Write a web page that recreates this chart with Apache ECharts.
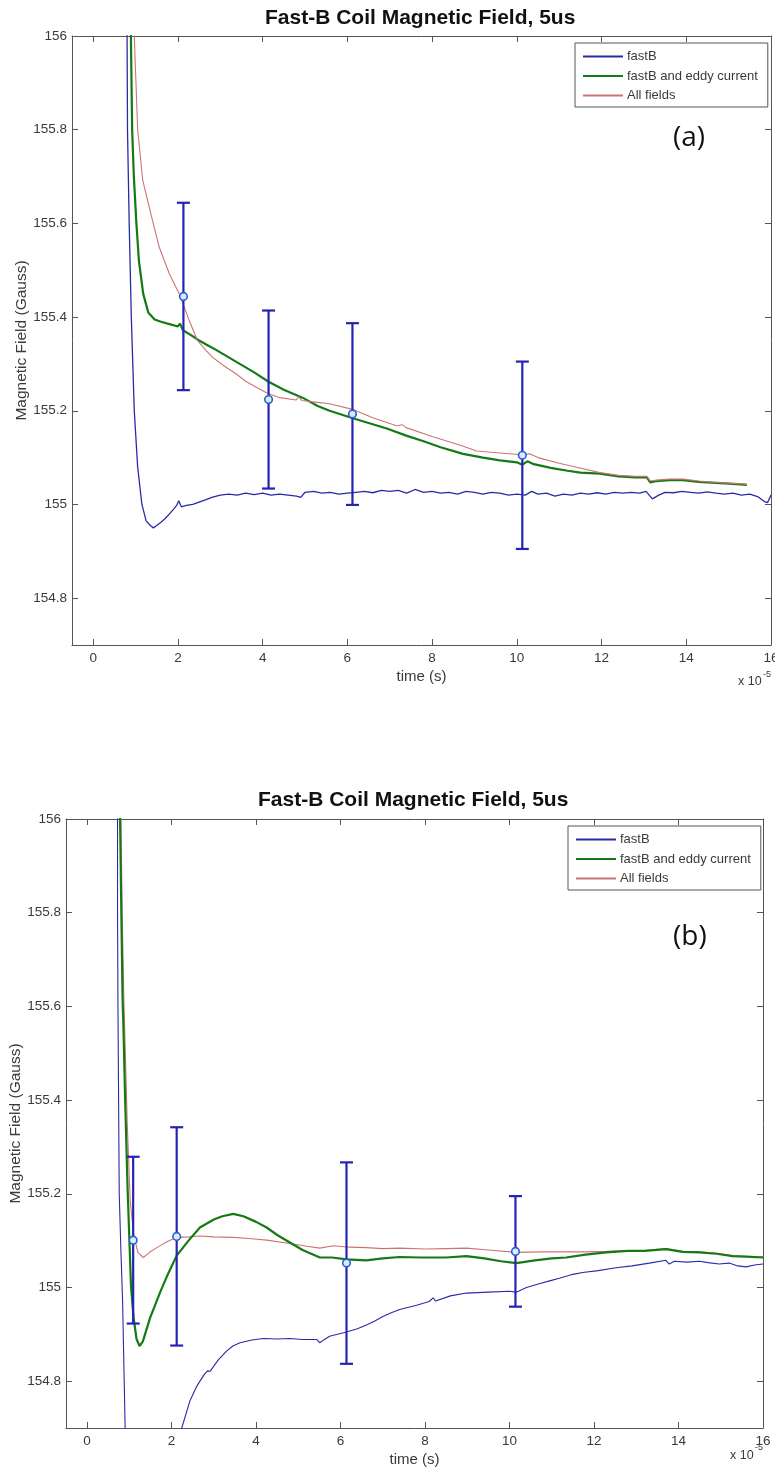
<!DOCTYPE html>
<html><head><meta charset="utf-8">
<script src="https://cdn.jsdelivr.net/npm/echarts@6/dist/echarts.min.js"></script>
<style>html,body{margin:0;padding:0;background:#fff}#c{width:775px;height:1470px}</style>
</head><body><div id="c"></div>
<script>
// ---------- data (time in units of 1e-5 s, field in Gauss) ----------
const titleText = 'Fast-B Coil Magnetic Field, 5us';
const seriesNames = ['fastB', 'fastB and eddy current', 'All fields'];

// panel (a)
const aFastB = [[0.79,156.3],[0.80,156.0],[0.81,155.8],[0.85,155.6],[0.90,155.4],[0.97,155.2],[1.05,155.08],[1.15,155.0],[1.25,154.965],[1.35,154.955],[1.42,154.95],[1.5,154.955],[1.6,154.962],[1.7,154.97],[1.8,154.98],[1.9,154.99],[1.97,154.998],[2.02,155.008],[2.08,154.995],[2.2,154.998],[2.35,155.0],[2.5,155.005],[2.65,155.01],[2.8,155.015],[3.0,155.02],[3.2,155.022],[3.4,155.02],[3.6,155.024],[3.8,155.021],[4.0,155.024],[4.2,155.02],[4.4,155.022],[4.6,155.02],[4.8,155.018],[4.9,155.015],[5.0,155.026],[5.2,155.028],[5.4,155.024],[5.6,155.026],[5.8,155.022],[6.0,155.024],[6.2,155.026],[6.4,155.028],[6.6,155.025],[6.8,155.03],[7.0,155.028],[7.2,155.03],[7.4,155.024],[7.6,155.032],[7.8,155.026],[8.0,155.028],[8.2,155.024],[8.4,155.026],[8.6,155.022],[8.8,155.028],[9.0,155.026],[9.2,155.022],[9.4,155.026],[9.6,155.024],[9.8,155.02],[10.0,155.022],[10.2,155.02],[10.35,155.028],[10.5,155.022],[10.7,155.024],[10.9,155.018],[11.1,155.022],[11.3,155.02],[11.5,155.024],[11.7,155.022],[11.9,155.025],[12.1,155.022],[12.3,155.026],[12.5,155.024],[12.7,155.026],[12.9,155.024],[13.05,155.028],[13.2,155.012],[13.35,155.02],[13.5,155.026],[13.7,155.025],[13.9,155.028],[14.1,155.026],[14.3,155.024],[14.5,155.027],[14.7,155.024],[14.9,155.022],[15.1,155.024],[15.3,155.02],[15.5,155.022],[15.7,155.016],[15.85,155.006],[15.92,155.004],[16.0,155.02]];
const aEddy = [[0.87,156.3],[0.89,156.0],[0.92,155.8],[0.96,155.7],[1.02,155.6],[1.08,155.52],[1.18,155.45],[1.3,155.41],[1.45,155.395],[1.6,155.39],[1.8,155.385],[2.0,155.38],[2.05,155.386],[2.12,155.372],[2.3,155.362],[2.5,155.35],[2.7,155.34],[2.9,155.33],[3.2,155.314],[3.5,155.298],[3.8,155.282],[4.14,155.262],[4.5,155.245],[4.94,155.228],[5.3,155.21],[5.58,155.2],[6.13,155.184],[6.5,155.174],[6.93,155.162],[7.39,155.147],[7.8,155.135],[8.2,155.122],[8.73,155.108],[9.2,155.1],[9.6,155.094],[10.0,155.09],[10.13,155.085],[10.25,155.092],[10.4,155.086],[10.8,155.078],[11.2,155.072],[11.5,155.068],[11.96,155.066],[12.4,155.06],[12.8,155.058],[13.07,155.058],[13.15,155.047],[13.3,155.05],[13.6,155.052],[13.92,155.052],[14.3,155.048],[14.7,155.046],[15.1,155.044],[15.43,155.042]];
const aAll = [[0.95,156.3],[0.97,156.0],[1.05,155.8],[1.17,155.692],[1.36,155.621],[1.56,155.549],[1.8,155.492],[2.03,155.45],[2.27,155.392],[2.46,155.35],[2.65,155.33],[2.82,155.314],[3.1,155.295],[3.37,155.279],[3.6,155.263],[3.85,155.25],[4.1,155.238],[4.4,155.228],[4.79,155.223],[4.85,155.23],[4.92,155.222],[5.2,155.219],[5.58,155.215],[6.12,155.203],[6.6,155.185],[7.16,155.168],[7.3,155.17],[7.39,155.164],[8.0,155.145],[8.72,155.125],[9.05,155.114],[9.6,155.11],[10.13,155.106],[10.3,155.108],[10.5,155.1],[11.0,155.088],[11.49,155.078],[11.96,155.068],[12.4,155.062],[12.8,155.06],[13.07,155.06],[13.15,155.05],[13.3,155.052],[13.6,155.054],[13.92,155.054],[14.3,155.05],[14.7,155.047],[15.1,155.045],[15.43,155.043]];
const aErrT = [2.13, 4.14, 6.12, 10.13];
const aErrV = [155.444, 155.224, 155.193, 155.105];
const aErrD = [0.2, 0.19, 0.194, 0.2];

// panel (b)
const bFastB = [[0.71,156.3],[0.72,156.0],[0.72,155.8],[0.73,155.6],[0.76,155.2],[0.8,155.078],[0.84,154.97],[0.9,154.7],[0.95,154.4],[1.5,154.3],[2.0,154.5],[2.24,154.7],[2.43,154.757],[2.6,154.79],[2.77,154.814],[2.85,154.822],[2.91,154.821],[3.1,154.845],[3.3,154.864],[3.45,154.875],[3.62,154.882],[3.9,154.888],[4.17,154.891],[4.5,154.89],[4.8,154.891],[5.1,154.889],[5.43,154.889],[5.51,154.882],[5.6,154.888],[5.74,154.896],[6.14,154.905],[6.4,154.912],[6.61,154.92],[6.8,154.928],[7.0,154.938],[7.2,154.946],[7.4,154.953],[7.8,154.962],[8.1,154.97],[8.19,154.978],[8.25,154.971],[8.6,154.982],[8.98,154.988],[9.5,154.99],[10.0,154.992],[10.16,154.99],[10.4,155.0],[10.7,155.008],[10.95,155.014],[11.2,155.02],[11.5,155.028],[11.73,155.032],[12.1,155.036],[12.52,155.042],[12.9,155.046],[13.31,155.052],[13.7,155.058],[13.78,155.05],[13.9,155.056],[14.2,155.054],[14.49,155.056],[14.7,155.053],[14.96,155.05],[15.2,155.052],[15.4,155.046],[15.6,155.044],[15.8,155.048],[16.0,155.05]];
const bEddy = [[0.77,156.3],[0.78,156.0],[0.81,155.8],[0.84,155.613],[0.86,155.556],[0.9,155.4],[0.96,155.206],[1.04,155.0],[1.1,154.935],[1.17,154.89],[1.24,154.875],[1.32,154.885],[1.49,154.935],[1.73,154.99],[1.92,155.03],[2.12,155.068],[2.4,155.1],[2.67,155.128],[3.0,155.145],[3.2,155.152],[3.46,155.157],[3.7,155.152],[4.0,155.14],[4.25,155.128],[4.5,155.112],[4.8,155.096],[5.1,155.08],[5.51,155.064],[5.8,155.064],[6.14,155.06],[6.61,155.058],[7.0,155.062],[7.4,155.065],[7.9,155.064],[8.5,155.064],[8.98,155.067],[9.4,155.062],[9.8,155.056],[10.16,155.052],[10.6,155.058],[11.0,155.062],[11.34,155.064],[11.8,155.07],[12.29,155.075],[12.8,155.078],[13.2,155.078],[13.7,155.082],[14.1,155.076],[14.49,155.075],[14.9,155.072],[15.28,155.067],[15.6,155.066],[16.0,155.064]];
const bAll = [[0.79,156.3],[0.8,156.0],[0.83,155.8],[0.87,155.613],[0.95,155.35],[1.02,155.185],[1.1,155.114],[1.2,155.075],[1.33,155.064],[1.48,155.075],[1.65,155.085],[1.9,155.098],[2.12,155.107],[2.4,155.108],[2.67,155.11],[3.0,155.108],[3.46,155.107],[3.9,155.104],[4.25,155.101],[4.8,155.094],[5.2,155.088],[5.51,155.084],[5.83,155.089],[6.2,155.086],[6.61,155.085],[7.0,155.083],[7.4,155.084],[8.0,155.082],[8.5,155.083],[8.98,155.084],[9.5,155.08],[10.16,155.075],[10.8,155.076],[11.34,155.076],[11.8,155.076],[12.29,155.077],[12.8,155.079],[13.2,155.079],[13.7,155.083],[14.1,155.077],[14.49,155.076],[14.9,155.073],[15.28,155.068],[15.6,155.066],[16.0,155.065]];
const bErrT = [1.09, 2.12, 6.14, 10.14];
const bErrV = [155.101, 155.109, 155.052, 155.077];
const bErrD = [0.178, 0.233, 0.215, 0.118];

// axis ranges
const xMin = -0.5, xMax = 16;
const yMin = 154.7, yMax = 156;

// ---------- styling ----------
const FONT = 'Liberation Sans';
const AXC = '#555';
const TXT = '#3a3a3a';
const C_BLUE = '#2a2aa6', C_GREEN = '#157a15', C_RED = '#cc7474', C_ERR = '#2424b4';

const grids = [
  {left: 72, top: 36, width: 699, height: 609, outerBoundsMode: 'none'},
  {left: 66, top: 819, width: 697, height: 609, outerBoundsMode: 'none'}
];

function isMult(v, step){ const r = v/step; return Math.abs(r - Math.round(r)) < 1e-6; }

const xAxes = [], yAxes = [];
grids.forEach((g, gi) => {
  xAxes.push({
    type: 'value', gridIndex: gi, position: 'bottom', min: xMin, max: xMax, splitNumber: 8,
    name: 'time (s)', nameLocation: 'middle', nameGap: 24, nameMoveOverlap: false,
    nameTextStyle: {fontFamily: FONT, fontSize: 15, color: TXT},
    axisLine: {show: true, onZero: false, lineStyle: {color: AXC, width: 1}},
    axisTick: {show: true, inside: true, length: 6, lineStyle: {color: AXC}},
    axisLabel: {show: true, margin: 6, fontFamily: FONT, fontSize: 13.5, color: TXT, showMinLabel: false,
      formatter: v => isMult(v, 2) ? String(Math.round(v)) : ''},
    splitLine: {show: false}
  });
  xAxes.push({
    type: 'value', gridIndex: gi, position: 'top', min: xMin, max: xMax, splitNumber: 8,
    axisLine: {show: true, onZero: false, lineStyle: {color: AXC, width: 1}},
    axisTick: {show: true, inside: true, length: 6, lineStyle: {color: AXC}},
    axisLabel: {show: false}, splitLine: {show: false}
  });
  yAxes.push({
    type: 'value', gridIndex: gi, position: 'left', min: yMin, max: yMax, splitNumber: 6,
    name: 'Magnetic Field (Gauss)', nameLocation: 'middle', nameGap: 42, nameMoveOverlap: false,
    nameTextStyle: {fontFamily: FONT, fontSize: 15.5, color: TXT},
    axisLine: {show: true, onZero: false, lineStyle: {color: AXC, width: 1}},
    axisTick: {show: true, inside: true, length: 6, lineStyle: {color: AXC}},
    axisLabel: {show: true, margin: 5, fontFamily: FONT, fontSize: 13.5, color: TXT, showMinLabel: false,
      formatter: v => isMult(v, 0.2) ? String(Math.round(v*10)/10) : ''},
    splitLine: {show: false}
  });
  yAxes.push({
    type: 'value', gridIndex: gi, position: 'right', min: yMin, max: yMax, splitNumber: 6,
    axisLine: {show: true, onZero: false, lineStyle: {color: AXC, width: 1}},
    axisTick: {show: true, inside: true, length: 6, lineStyle: {color: AXC}},
    axisLabel: {show: false}, splitLine: {show: false}
  });
});

function lineSeries(name, data, color, width, gi, z){
  return {
    type: 'line', name, data, xAxisIndex: gi*2, yAxisIndex: gi*2,
    showSymbol: false, symbol: 'none', clip: true, smooth: false, z,
    lineStyle: {color, width}, itemStyle: {color}, emphasis: {disabled: true}
  };
}

function errSeries(ts, vs, ds, gi){
  return {
    type: 'custom', name: 'err' + gi, xAxisIndex: gi*2, yAxisIndex: gi*2, z: 10,
    data: ts.map((t, i) => [t, vs[i], ds[i]]),
    encode: {x: 0, y: 1},
    renderItem: function(params, api){
      const x = api.value(0), y = api.value(1), d = api.value(2);
      const p = api.coord([x, y]), pt = api.coord([x, y + d]), pb = api.coord([x, y - d]);
      const hw = 6.5;
      const ls = {stroke: C_ERR, lineWidth: 2.2};
      return {type: 'group', children: [
        {type: 'line', shape: {x1: p[0], y1: pt[1], x2: p[0], y2: pb[1]}, style: ls},
        {type: 'line', shape: {x1: p[0]-hw, y1: pt[1], x2: p[0]+hw, y2: pt[1]}, style: ls},
        {type: 'line', shape: {x1: p[0]-hw, y1: pb[1], x2: p[0]+hw, y2: pb[1]}, style: ls},
        {type: 'circle', shape: {cx: p[0], cy: p[1], r: 3.8}, style: {fill: '#d8ecff', stroke: '#2a5fd0', lineWidth: 1.6}}
      ]};
    }
  };
}

const series = [
  lineSeries(seriesNames[0], aFastB, C_BLUE, 1.3, 0, 2),
  lineSeries(seriesNames[1], aEddy, C_GREEN, 2.2, 0, 3),
  lineSeries(seriesNames[2], aAll, C_RED, 1.1, 0, 4),
  errSeries(aErrT, aErrV, aErrD, 0),
  lineSeries(seriesNames[0], bFastB, C_BLUE, 1.1, 1, 2),
  lineSeries(seriesNames[2], bAll, C_RED, 1.1, 1, 3),
  lineSeries(seriesNames[1], bEddy, C_GREEN, 2.2, 1, 4),
  errSeries(bErrT, bErrV, bErrD, 1)
];

function legendAt(left, top){
  return {
    left, top, orient: 'vertical', data: seriesNames,
    backgroundColor: '#fff', borderColor: '#555', borderWidth: 1, borderRadius: 0,
    padding: [7, 10, 5, 7], itemWidth: 40, itemHeight: 12, itemGap: 6.5,
    selectedMode: false,
    itemStyle: {opacity: 0},
    textStyle: {fontFamily: FONT, fontSize: 13, color: TXT, padding: [0,0,0,-1]}
  };
}

const option = {
  animation: false,
  backgroundColor: '#fff',
  title: [
    {text: titleText, left: 265, top: 8, padding: 0, textStyle: {fontFamily: FONT, fontWeight: 'bold', fontSize: 21, color: '#111'}},
    {text: titleText, left: 258, top: 790, padding: 0, textStyle: {fontFamily: FONT, fontWeight: 'bold', fontSize: 21, color: '#111'}}
  ],
  legend: [legendAt(575, 43), legendAt(568, 826)],
  grid: grids,
  xAxis: xAxes,
  yAxis: yAxes,
  series,
  graphic: [
    {type: 'text', left: 673, top: 124, style: {text: '(a)', fontFamily: 'Open Sans', fontSize: 28, fill: '#111'}},
    {type: 'text', left: 673, top: 923, style: {text: '(b)', fontFamily: 'Open Sans', fontSize: 28, fill: '#111'}},
    {type: 'text', left: 738, top: 675, style: {text: 'x 10', fontFamily: FONT, fontSize: 12.5, fill: TXT}},
    {type: 'text', left: 763, top: 670, style: {text: '-5', fontFamily: FONT, fontSize: 9, fill: TXT}},
    {type: 'text', left: 730, top: 1449, style: {text: 'x 10', fontFamily: FONT, fontSize: 12.5, fill: TXT}},
    {type: 'text', left: 755, top: 1443, style: {text: '-5', fontFamily: FONT, fontSize: 9, fill: TXT}}
  ]
};

const chart = echarts.init(document.getElementById('c'), null, {renderer: 'canvas'});
chart.setOption(option);
</script>
</body></html>
